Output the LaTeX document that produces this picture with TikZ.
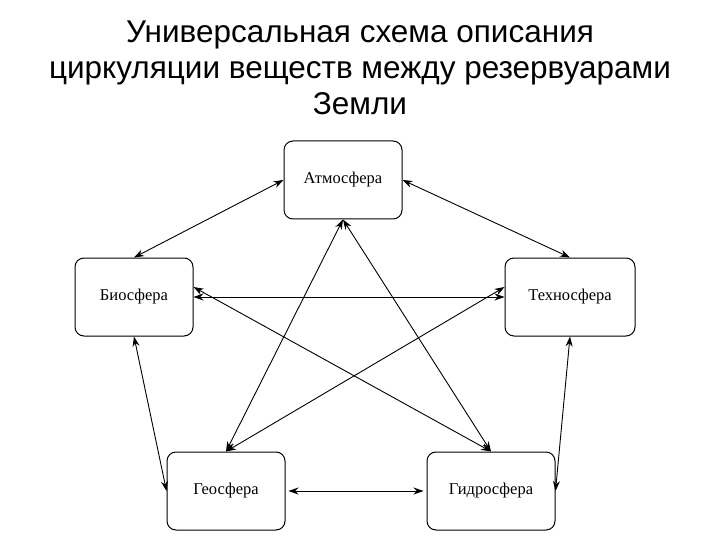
\documentclass[tikz,border=0pt]{standalone}
\usepackage{fontspec}
\setmainfont{Liberation Serif}
\newfontfamily\titlefont{Liberation Sans}
\usetikzlibrary{arrows.meta}
\begin{document}
\begin{tikzpicture}[x=1pt,y=-1pt,
  box/.style={draw,rounded corners=9pt,minimum width=118pt,minimum height=78pt,font=\fontsize{16.5}{18}\selectfont,line width=1pt},
  link/.style={{Stealth[length=10pt,width=7pt]}-{Stealth[length=10pt,width=7pt]},line width=0.9pt}]
\useasboundingbox (0,0) rectangle (720,540);
\node[font=\titlefont\fontsize{31.5}{36}\selectfont,align=center] (title) at (360,68) {Универсальная схема описания\\циркуляции веществ между резервуарами\\Земли};
\node[box] (atm) at (343,180) {Атмосфера};
\node[box] (bio) at (134,297) {Биосфера};
\node[box,minimum width=130pt] (tech) at (570,297) {Техносфера};
\node[box] (geo) at (226,491) {Геосфера};
\node[box,minimum width=128pt] (hyd) at (491,491) {Гидросфера};
\draw[link] (atm.west) -- (bio.north);
\draw[link] (atm.east) -- (tech.north);
\draw[link] (bio.east) -- (tech.west);
\draw[link] (bio.south) -- (geo.west);
\draw[link] (tech.south) -- (hyd.east);
\draw[link] ([xshift=3pt]geo.east) -- ([xshift=-3pt]hyd.west);
\draw[link] (atm.south) -- (geo.north);
\draw[link] (atm.south) -- (hyd.north);
\draw[link] ([yshift=10pt]bio.east) -- (hyd.north);
\draw[link] ([yshift=10pt]tech.west) -- (geo.north);
\end{tikzpicture}
\end{document}
